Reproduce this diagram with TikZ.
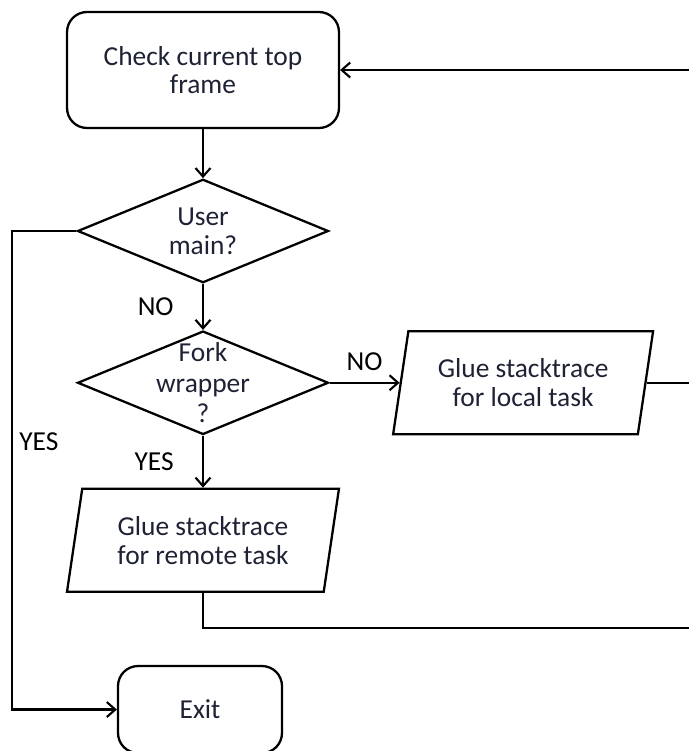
\documentclass[tikz,border=0pt]{standalone}
\usepackage{fontspec}
\setmainfont{Carlito}
\usetikzlibrary{shapes.geometric,arrows.meta,positioning}
\definecolor{textnavy}{RGB}{30,34,52}

\begin{document}
\begin{tikzpicture}[
        x=0.02cm, y=-0.02cm,
        font=\fontsize{15.6}{16.4}\selectfont,
        % Rounded start/end boxes, diamonds for decisions, slanted boxes for work.
        termbox/.style={rectangle, rounded corners=4mm, draw, line width=1.3pt,
            text=textnavy, align=center},
        decision/.style={diamond, draw, line width=1.3pt, inner sep=0pt,
            minimum width=5.02cm, minimum height=2.07cm},
        iobox/.style={trapezium, trapezium left angle=75.7, trapezium right angle=104.3,
            trapezium stretches body, draw, line width=1.3pt, text=textnavy,
            align=center, minimum height=2.06cm, minimum width=#1},
        arr/.style={-{Straight Barb[length=1.7mm,width=3mm]}, line width=1.2pt},
        line/.style={line width=1.2pt}
    ]
        \useasboundingbox (0,0) rectangle (689,751);

        % Main column
        \node[termbox, minimum width=5.44cm, minimum height=2.32cm] (check) at (203,70)
            {Check current top\\frame};
        \node[decision, below=0.98cm of check] (usermain) {};
        \node[text=textnavy, align=center] (usermaintext) at (usermain) {User\\main?};
        \node[decision, below=0.92cm of usermain] (fork) {};
        \node[text=textnavy, align=center, font=\fontsize{15.6}{17.4}\selectfont]
            (forktext) at (fork) {Fork\\wrapper\\?};
        \node[iobox=5.2cm, right=1.4cm of fork] (local) {Glue stacktrace\\for local task};
        \node[iobox=5.44cm, below=1.04cm of fork] (remote) {Glue stacktrace\\for remote task};
        \node[termbox, minimum width=3.28cm, minimum height=1.74cm, below=1.44cm of remote,
            xshift=-0.06cm] (exit) {Exit};

        % Loose ends running off the right edge
        \coordinate (rtop) at (689,70);
        \coordinate (rmid) at (local.east -| 689,0);
        \coordinate (rbot) at (689,628);

        % Connections
        \draw[arr] (check.south) -- (usermain.north);
        \draw[arr] (usermain.south) -- node[midway, left=4.5mm] (nouser) {NO} (fork.north);
        \draw[arr] (usermain.west) -- ++(-64,0)
            |- node[pos=0.22, right=0pt] (yesuser) {YES} (exit.west);
        \draw[arr] (fork.east) -- node[midway, above=3pt] (nofork) {NO} (local.west);
        \draw[arr] (fork.south) -- node[midway, left=4.5mm] (yesfork) {YES} (remote.north);
        \draw[line] (local.east) -- (rmid);
        \draw[line] (remote.south) |- (rbot);
        \draw[arr] (rtop) -- (check.east);
    \end{tikzpicture}
\end{document}
